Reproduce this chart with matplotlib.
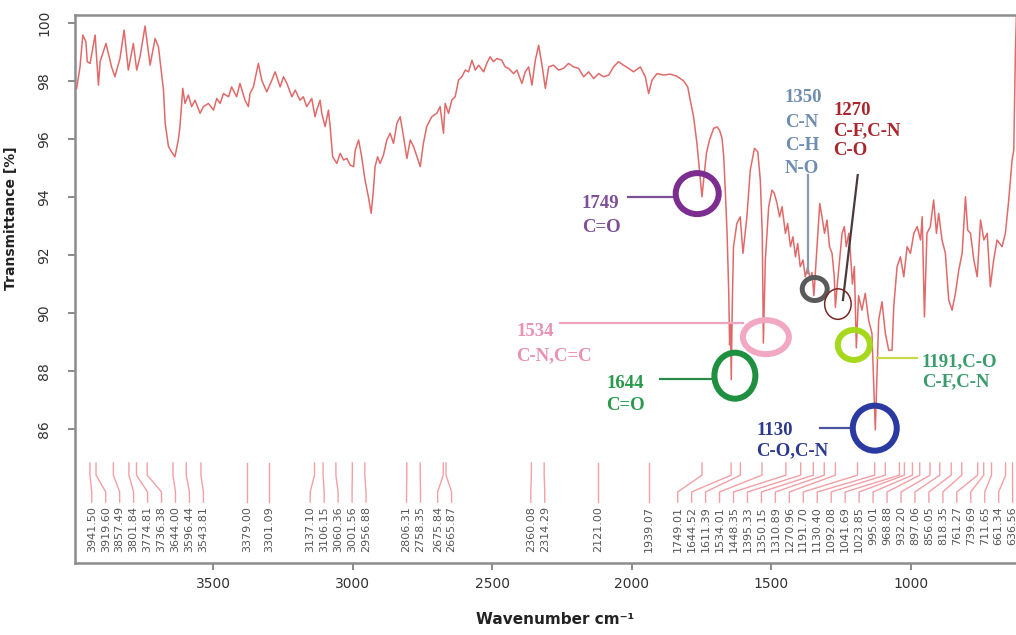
import numpy as np
import matplotlib.pyplot as plt
from matplotlib.patches import Ellipse

# spectrum (wavenumber cm-1, transmittance %)
wavenumber = [
    3989, 3977, 3967, 3956, 3951, 3941, 3923, 3911, 3905, 3884, 3864, 3852, 3834, 3819,
    3804, 3786, 3774, 3762, 3744, 3726, 3708, 3696, 3678, 3672, 3660, 3649, 3637, 3625,
    3619, 3609, 3601, 3589, 3577, 3565, 3547, 3535, 3517, 3499, 3487, 3475, 3463, 3445,
    3434, 3416, 3404, 3386, 3374, 3368, 3356, 3338, 3326, 3308, 3290, 3278, 3260, 3248,
    3236, 3218, 3206, 3189, 3177, 3165, 3147, 3135, 3129, 3117, 3111, 3099, 3087, 3081,
    3072, 3057, 3045, 3033, 3021, 3009, 2997, 2991, 2979, 2968, 2956, 2944, 2934, 2926,
    2920, 2911, 2902, 2890, 2878, 2866, 2854, 2842, 2830, 2818, 2806, 2794, 2782, 2770,
    2758, 2747, 2735, 2717, 2699, 2687, 2675, 2669, 2657, 2645, 2633, 2621, 2609, 2597,
    2585, 2573, 2561, 2549, 2531, 2520, 2508, 2496, 2484, 2466, 2454, 2442, 2424, 2412,
    2394, 2382, 2370, 2358, 2346, 2334, 2322, 2310, 2298, 2281, 2263, 2245, 2227, 2209,
    2191, 2173, 2155, 2137, 2119, 2101, 2083, 2066, 2048, 2030, 2012, 1994, 1970, 1952,
    1940, 1928, 1910, 1886, 1863, 1839, 1815, 1800, 1791, 1779, 1767, 1757, 1749, 1743,
    1733, 1722, 1707, 1695, 1686, 1677, 1671, 1665, 1659, 1653, 1650, 1647, 1644, 1640,
    1636, 1624, 1612, 1602, 1588, 1576, 1561, 1549, 1540, 1533, 1529, 1522, 1510, 1498,
    1490, 1480, 1471, 1462, 1450, 1442, 1432, 1423, 1414, 1406, 1397, 1387, 1379, 1370,
    1361, 1355, 1348, 1337, 1327, 1319, 1310, 1301, 1292, 1283, 1275, 1271, 1264, 1256,
    1247, 1239, 1232, 1223, 1217, 1210, 1203, 1196, 1188, 1176, 1164, 1152, 1140, 1128,
    1116, 1104, 1092, 1080, 1068, 1062, 1050, 1038, 1026, 1014, 1002, 990, 978, 966,
    960, 952, 943, 931, 919, 909, 901, 889, 877, 865, 853, 841, 829, 817,
    805, 797, 787, 775, 763, 751, 739, 727, 716, 704, 692, 674, 662, 650,
    638, 632, 626, 622,
]
transmittance = [
    97.75, 98.49, 99.59, 99.36, 98.67, 98.61, 99.59, 97.86, 98.67, 99.30, 98.49, 98.15, 98.78, 99.76,
    98.38, 99.30, 98.38, 98.84, 99.90, 98.55, 99.47, 99.18, 97.69, 96.54, 95.74, 95.56, 95.39, 95.97,
    96.43, 97.75, 97.23, 97.52, 97.12, 97.34, 96.89, 97.12, 97.23, 97.00, 97.40, 97.23, 97.57, 97.46,
    97.80, 97.46, 97.92, 97.34, 97.12, 97.57, 97.80, 98.61, 98.03, 97.63, 98.03, 98.32, 97.80, 98.15,
    97.92, 97.46, 97.69, 97.34, 97.46, 97.12, 97.40, 96.77, 97.00, 97.34, 96.89, 96.43, 97.00, 96.43,
    95.39, 95.16, 95.51, 95.28, 95.33, 95.10, 95.05, 95.62, 95.97, 95.39, 94.59, 94.01, 93.44, 94.24,
    95.05, 95.39, 95.16, 95.45, 95.97, 96.20, 95.85, 96.54, 96.77, 96.08, 95.33, 95.97, 95.74, 95.39,
    95.05, 95.85, 96.43, 96.77, 96.89, 97.12, 96.20, 97.23, 96.89, 97.35, 97.46, 98.04, 98.15, 98.38,
    98.32, 98.72, 98.38, 98.55, 98.32, 98.61, 98.84, 98.67, 98.78, 98.72, 98.49, 98.44, 98.26, 98.38,
    97.92, 98.32, 98.49, 97.86, 98.72, 99.24, 98.55, 97.75, 98.49, 98.55, 98.38, 98.44, 98.61, 98.49,
    98.44, 98.15, 98.32, 98.09, 98.26, 98.15, 98.21, 98.49, 98.67, 98.55, 98.44, 98.32, 98.49, 98.15,
    97.57, 98.03, 98.26, 98.21, 98.24, 98.17, 98.01, 97.80, 97.34, 96.77, 95.85, 94.82, 94.01, 94.59,
    95.51, 95.97, 96.37, 96.42, 96.31, 96.02, 95.39, 94.13, 92.75, 90.68, 88.90, 89.60, 87.70, 90.50,
    92.29, 93.09, 93.32, 92.06, 93.32, 94.93, 95.68, 95.56, 94.59, 92.75, 88.97, 91.83, 93.67, 94.24,
    94.13, 93.78, 93.32, 93.67, 92.75, 93.09, 92.29, 92.63, 91.94, 92.40, 91.60, 91.83, 91.25, 91.60,
    91.14, 91.40, 90.60, 92.29, 93.78, 93.32, 92.75, 93.21, 92.29, 92.06, 91.25, 90.20, 91.00, 91.83,
    92.75, 92.98, 92.29, 92.75, 92.06, 91.00, 91.60, 88.80, 90.60, 90.10, 90.68, 89.76, 89.30, 85.97,
    89.76, 90.39, 89.30, 88.72, 88.72, 90.22, 91.60, 91.94, 91.25, 92.29, 92.06, 92.75, 92.98, 92.52,
    93.32, 89.87, 92.75, 92.98, 93.90, 92.75, 93.44, 92.52, 92.06, 90.45, 90.10, 90.68, 91.48, 92.06,
    94.01, 92.86, 92.75, 91.83, 91.25, 93.21, 92.52, 92.75, 90.91, 91.83, 92.52, 92.29, 92.75, 93.90,
    95.28, 95.62, 99.07, 100.45,
]

# picked peaks listed under the spectrum
peak_wn = [
    3941.50, 3919.60, 3857.49, 3801.84, 3774.81, 3736.38, 3644.00, 3596.44, 3543.81,
    3379.00, 3301.09, 3137.10, 3106.15, 3060.36, 3001.56, 2956.88, 2806.31, 2758.35,
    2675.84, 2665.87, 2360.08, 2314.29, 2121.00, 1939.07, 1749.01, 1644.52, 1611.39,
    1534.01, 1448.35, 1395.33, 1350.15, 1310.89, 1270.96, 1191.70, 1130.40, 1092.08,
    1041.69, 1023.85, 995.01, 968.88, 932.20, 897.06, 856.05, 818.35, 761.27,
    739.69, 711.65, 661.34, 636.56,
]

x_ticks = [3500, 3000, 2500, 2000, 1500, 1000]
y_ticks = [86, 88, 90, 92, 94, 96, 98, 100]

# assignments: text lines, colours, where the text / leader line / ring sit
annotations = [
    dict(lines=['1749', 'C=O'], tx=2180, ty=[93.62, 92.80], tcol='#7d4f98',
         leader=([2014, 1853], [94.01, 94.01]), lcol='#7d4f98',
         ring=(1766, 94.12), size=(49, 47), lw=6, rcol='#7b2d90'),
    dict(lines=['1534', 'C-N,C=C'], tx=2413, ty=[89.21, 88.38], tcol='#e891b3',
         leader=([2258, 1602], [89.67, 89.67]), lcol='#f0a4c0',
         ring=(1520, 89.17), size=(52, 40), lw=6, rcol='#f2a7c2'),
    dict(lines=['1644', 'C=O'], tx=2091, ty=[87.41, 86.66], tcol='#2a9a4c',
         leader=([1900, 1710], [87.72, 87.72]), lcol='#2a8a4a',
         ring=(1631, 87.84), size=(47, 52), lw=6, rcol='#1f8f40'),
    dict(lines=['1350', 'C-N', 'C-H', 'N-O'], tx=1452, ty=[97.29, 96.43, 95.62, 94.82],
         tcol='#6f8db0', leader=([1370, 1370], [94.76, 91.38]), lcol='#8a98a8',
         ring=(1345, 90.83), size=(30, 28), lw=5, rcol='#5a5a5a'),
    dict(lines=['1270', 'C-F,C-N', 'C-O'], tx=1279, ty=[96.83, 96.14, 95.45],
         tcol='#a8262c', leader=([1191, 1244], [94.76, 90.45]), lcol='#4a3a3a',
         ring=(1262, 90.31), size=(28, 32), lw=1.5, rcol='#7a2424'),
    dict(lines=['1191,C-O', 'C-F,C-N'], tx=962, ty=[88.15, 87.46], tcol='#3a9c6c',
         leader=([1122, 979], [88.45, 88.45]), lcol='#c6da4c',
         ring=(1205, 88.90), size=(38, 36), lw=6, rcol='#a6d81e'),
    dict(lines=['1130', 'C-O,C-N'], tx=1554, ty=[85.79, 85.10], tcol='#2b3a8e',
         leader=([1327, 1219], [86.03, 86.03]), lcol='#4a55a0',
         ring=(1130, 86.03), size=(50, 51), lw=6, rcol='#2a3aa0'),
]

X_LEFT, X_RIGHT = 3995, 624
Y_BOT, Y_TOP = 81.38, 100.28
DPI = 100


def spread_labels(peaks, gap, lo, hi):
    """Push label positions apart (min gap) while staying close to the peaks."""
    a = np.sort(np.asarray(peaks, float))
    n = len(a)
    c = a - gap * np.arange(n)
    blocks = []
    for v in c:
        blocks.append([v, 1])
        while len(blocks) > 1 and blocks[-2][0] / blocks[-2][1] > blocks[-1][0] / blocks[-1][1]:
            s, k = blocks.pop()
            blocks[-1][0] += s
            blocks[-1][1] += k
    fit = np.concatenate([[s / k] * k for s, k in blocks])
    fit = np.clip(fit, lo, hi - gap * (n - 1))
    return a, fit + gap * np.arange(n)


fig = plt.figure(figsize=(10.16, 6.35), dpi=DPI)
ax = fig.add_axes([75 / 1016, 72 / 635, 941 / 1016, 548 / 635])
ax.set_xlim(X_LEFT, X_RIGHT)
ax.set_ylim(Y_BOT, Y_TOP)

ax.plot(wavenumber, transmittance, color='#e06a6a', lw=1.1, zorder=3)

# peak list along the bottom
peaks, label_pos = spread_labels(peak_wn, 50, X_RIGHT + 12, X_LEFT - 60)
for p, b in zip(peaks, label_pos):
    ax.plot([p, p, b, b], [84.83, 84.41, 83.83, 83.48], color='#f2a0a6', lw=1.0, zorder=2)
    ax.text(b, 83.34, f'{p:.2f}', rotation=90, ha='center', va='top',
            fontsize=8, color='#555555')

# rings and assignment labels
ax_w = fig.get_figwidth() * DPI * ax.get_position().width
ax_h = fig.get_figheight() * DPI * ax.get_position().height
sx = (X_LEFT - X_RIGHT) / ax_w
sy = (Y_TOP - Y_BOT) / ax_h
for a in annotations:
    xs, ys = a['leader']
    ax.plot(xs, ys, color=a['lcol'], lw=1.6, zorder=4)
    w, h = a['size']
    ax.add_patch(Ellipse(a['ring'], (w - a['lw']) * sx, (h - a['lw']) * sy,
                         fill=False, ec=a['rcol'], lw=a['lw'] * 0.72, zorder=5))
    for line, ty in zip(a['lines'], a['ty']):
        ax.text(a['tx'], ty, line, ha='left', va='baseline', fontsize=13.5,
                family='Liberation Serif', weight='bold', color=a['tcol'], zorder=6)

ax.set_xticks(x_ticks)
ax.set_yticks(y_ticks)
ax.tick_params(axis='both', direction='out', length=5, width=1.2, color='#777777',
               labelsize=10, labelcolor='#333333')
ax.tick_params(axis='x', pad=5)
ax.tick_params(axis='y', labelrotation=90, pad=12)
for t in ax.get_yticklabels():
    t.set_va('center')

for side in ['left', 'bottom', 'top']:
    ax.spines[side].set_color('#8c8c8c')
    ax.spines[side].set_linewidth(1.8)
ax.spines['right'].set_visible(False)

ax.set_ylabel('Transmittance [%]', fontsize=10, weight='bold', color='#222222')
ax.yaxis.set_label_coords(-0.061, 0.63)
ax.set_xlabel('Wavenumber cm⁻¹', fontsize=11, weight='bold', color='#222222')
ax.xaxis.set_label_coords(0.51, -0.09)

fig.savefig('out.png', dpi=DPI)
